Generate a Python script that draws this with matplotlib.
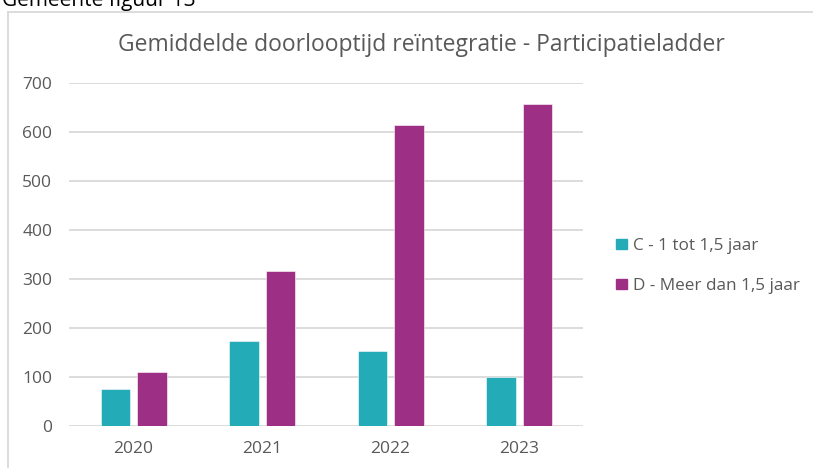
import matplotlib
matplotlib.use("Agg")
import matplotlib.pyplot as plt
from matplotlib.lines import Line2D
from matplotlib.patches import Patch
import numpy as np

plt.rcParams['font.family'] = ['Open Sans', 'DejaVu Sans']

years = ["2020", "2021", "2022", "2023"]
series_c = [75, 173, 152, 100]
series_d = [109, 316, 614, 657]
label_c = "C - 1 tot 1,5 jaar"
label_d = "D - Meer dan 1,5 jaar"
color_c = "#23ABB8"
color_d = "#9D2F85"

W, H = 813, 468
fig = plt.figure(figsize=(W / 100, H / 100), dpi=100)
ax = fig.add_axes([69 / W, 1 - 425.7 / H, (583 - 69) / W, (425.7 - 83.3) / H])

x = np.arange(len(years))
w = 0.23
ax.bar(x - 0.137, series_c, w, color=color_c, edgecolor="white", linewidth=0.4, zorder=3)
ax.bar(x + 0.147, series_d, w, color=color_d, edgecolor="white", linewidth=0.4, zorder=3)

ax.set_xlim(-0.5, 3.5)
ax.set_ylim(0, 700)
ax.set_yticks(range(0, 701, 100))
ax.set_xticks(x)
ax.set_xticklabels(years)
ax.grid(axis="y", color="#D9D9D9", linewidth=1.3, zorder=0)
for s in ax.spines.values():
    s.set_visible(False)
ax.tick_params(axis="both", length=0, colors="#595959", labelsize=12.5)
ax.tick_params(axis="y", pad=12)
ax.tick_params(axis="x", pad=11)

fig.text(0.5 * (115 + 727) / W, 1 - 45 / H, "Gemiddelde doorlooptijd reïntegratie - Participatieladder",
         ha="center", va="center", fontsize=16.5, color="#595959")

# caption text cut off at the top of the picture
fig.text(2 / W, 1 - 6 / H, "Gemeente figuur 13", ha="left", va="baseline", fontsize=15, color="black")

# chart frame (left and top edges visible)
fig.add_artist(Line2D([8 / W, 8 / W], [0, 1 - 12 / H], transform=fig.transFigure, color="#D9D9D9", lw=1.3))
fig.add_artist(Line2D([8 / W, 1], [1 - 12 / H, 1 - 12 / H], transform=fig.transFigure, color="#D9D9D9", lw=1.3))

handles = [Patch(color=color_c, label=label_c), Patch(color=color_d, label=label_d)]
fig.legend(handles=handles, loc="center left", bbox_to_anchor=(601 / W, 1 - 266 / H), frameon=False,
           handlelength=0.6, handleheight=0.6, handletextpad=0.35, labelspacing=1.4,
           fontsize=12.3, labelcolor="#595959")

fig.savefig("out.png", dpi=100, facecolor="white")
